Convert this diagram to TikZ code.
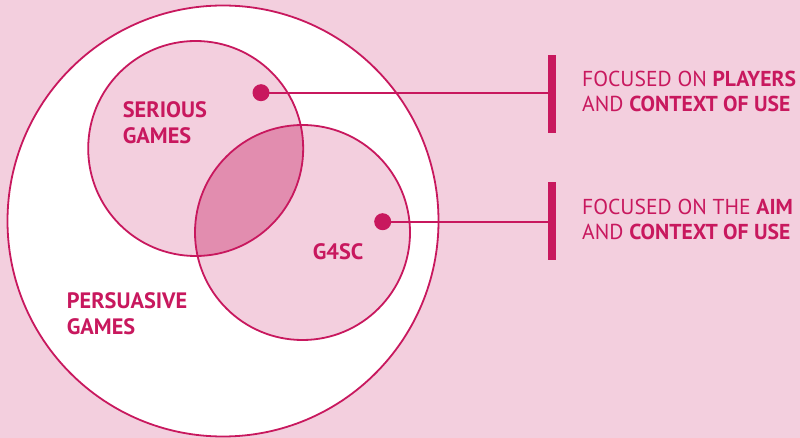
\documentclass[tikz,border=0pt]{standalone}
\usepackage{fontspec}
\setmainfont{PT Sans}
\definecolor{bgpink}{HTML}{F3CFDE}
\definecolor{mag}{HTML}{C8185E}
\definecolor{overlap}{HTML}{E28DAF}
\begin{document}
\begin{tikzpicture}[x=1pt,y=-1pt,
  ring/.style={draw=mag,line width=1.8pt},
  dotnode/.style={circle,fill=mag,inner sep=0pt,minimum size=17pt},
  barnode/.style={rectangle,fill=mag,inner sep=0pt,minimum width=8pt,minimum height=78pt},
  link/.style={draw=mag,line width=1.8pt},
  lbl/.style={text=mag,font=\fontsize{22.3}{26}\selectfont\bfseries,anchor=base west,inner sep=0pt},
  desc/.style={text=mag,font=\fontsize{21.6}{25}\selectfont,anchor=base west,inner sep=0pt}]
\useasboundingbox (0,0) rectangle (800,438);
\fill[bgpink] (0,0) rectangle (800,438);
\coordinate (P) at (223,221);
\coordinate (S) at (195.7,148.5);
\coordinate (G) at (302.5,232.5);
\fill[white] (P) circle[radius=215.5pt];
\fill[bgpink] (S) circle[radius=107.5pt];
\fill[bgpink] (G) circle[radius=107.5pt];
\begin{scope}
\clip (S) circle[radius=107.5pt];
\fill[overlap] (G) circle[radius=107.5pt];
\end{scope}
\draw[ring] (P) circle[radius=215.5pt];
\draw[ring] (S) circle[radius=107.5pt];
\draw[ring] (G) circle[radius=107.5pt];
\node[dotnode] (d1) at (261,92.7) {};
\node[barnode] (b1) at (552,94) {};
\draw[link] (d1.center) -- (d1.center -| b1.west);
\node[dotnode] (d2) at (382.7,221.7) {};
\node[barnode] (b2) at (552,221) {};
\draw[link] (d2.center) -- (d2.center -| b2.west);
\node[desc] (t1) at (582,86.7) {FOCUSED ON \textbf{PLAYERS}};
\node[desc] (t2) at (582,111.7) {AND \textbf{CONTEXT OF USE}};
\node[desc] (t3) at (582,214.3) {FOCUSED ON THE \textbf{AIM}};
\node[desc] (t4) at (582,239.3) {AND \textbf{CONTEXT OF USE}};
\node[lbl] (s1) at (122.7,117.3) {SERIOUS};
\node[lbl] (s2) at (122.7,143.3) {GAMES};
\node[lbl] (g1) at (312.7,259.3) {G4SC};
\node[lbl] (p1) at (66.7,308.3) {PERSUASIVE};
\node[lbl] (p2) at (66.7,334.3) {GAMES};
\end{tikzpicture}
\end{document}
